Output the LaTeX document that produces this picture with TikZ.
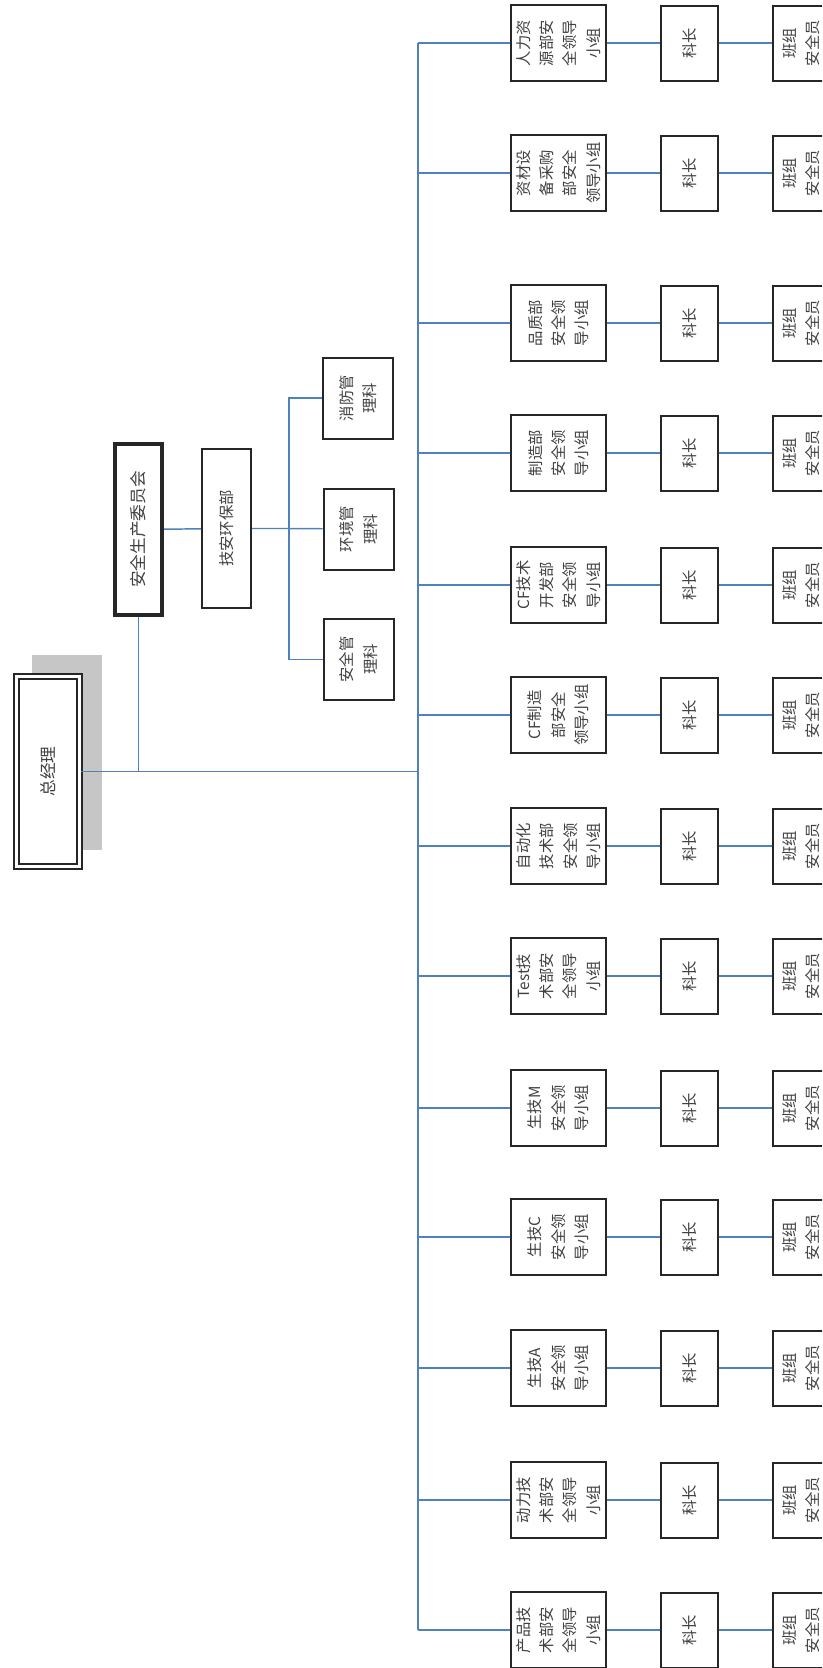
\documentclass[tikz,border=0pt]{standalone}
\usepackage{fontspec}
\setmainfont{Noto Sans CJK SC}
\definecolor{linkblue}{RGB}{79,129,189}

\begin{document}
\begin{tikzpicture}[x=0.75pt,y=-0.75pt]
  \tikzstyle{box}=[draw=black!85,line width=1.5pt,fill=white,rotate=90,inner sep=0pt,align=center,text=black!75,font=\fontsize{11.5}{17.5}\selectfont]
  \tikzstyle{groupbox}=[box,minimum width=57pt,minimum height=71.25pt]
  \tikzstyle{chiefbox}=[box,minimum width=56.25pt,minimum height=42.75pt]
  \tikzstyle{officebox}=[box,minimum width=60.75pt,minimum height=52.5pt]
  \tikzstyle{link}=[linkblue,line width=1.1pt]
  \useasboundingbox (0,0) rectangle (822,1668);
  \clip (0,0) rectangle (822,1668);
  % top of the chart
  \fill[gray!45] (32,655) rectangle (102,850);
  \node[box,double,double distance=1.8pt,line width=1.6pt,minimum width=142.5pt,minimum height=47.25pt,font=\fontsize{12.5}{15}\selectfont] (zjl) at (48,771.5) {总经理};
  \node[box,line width=3pt,minimum width=128.25pt,minimum height=35.25pt,font=\fontsize{12.5}{15}\selectfont] (aqw) at (138.5,529.5) {安全生产委员会};
  \node[box,minimum width=119.25pt,minimum height=36.75pt] (jah) at (226.5,528.5) {技安环保部};
  \node[officebox] (xf) at (358,398) {消防管\\理科};
  \node[officebox] (hj) at (358.5,529) {环境管\\理科};
  \node[officebox] (aqg) at (358.5,659.5) {安全管\\理科};
  \coordinate (wj) at (138.5,771.5);
  \coordinate (tz) at (418,771.5);
  \coordinate (kb) at (289,528.5);
  \draw[link] (zjl) -- (tz);
  \draw[link] (aqw) -- (wj);
  \draw[link] (aqw) -- (jah) -- (kb) -- (hj);
  \draw[link] (xf) -| (kb) |- (aqg);
  % departments, section chiefs and team safety officers
  \foreach \i/\y/\txt in {1/43/{人力资\\源部安\\全领导\\小组},
      2/173/{资材设\\备采购\\部安全\\领导小组},
      3/323/{品质部\\安全领\\导小组},
      4/453/{制造部\\安全领\\导小组},
      5/585/{CF技术\\开发部\\安全领\\导小组},
      6/715/{CF制造\\部安全\\领导小组},
      7/846/{自动化\\技术部\\安全领\\导小组},
      8/976/{Test技\\术部安\\全领导\\小组},
      9/1108/{生技M\\安全领\\导小组},
      10/1237/{生技C\\安全领\\导小组},
      11/1368/{生技A\\安全领\\导小组},
      12/1500/{动力技\\术部安\\全领导\\小组},
      13/1630/{产品技\\术部安\\全领导\\小组}}{
    \node[groupbox] (g\i) at (558.5,\y) {\txt};
    \node[chiefbox] (k\i) at (689.5,\y) {科长};
    \node[chiefbox] (b\i) at (801.5,\y) {班组\\安全员};
    \coordinate (t\i) at (418,\y);
    \draw[link] (t\i) -- (g\i) -- (k\i) -- (b\i);
  }
  \draw[link] (t1) -- (t13);
\end{tikzpicture}
\end{document}
